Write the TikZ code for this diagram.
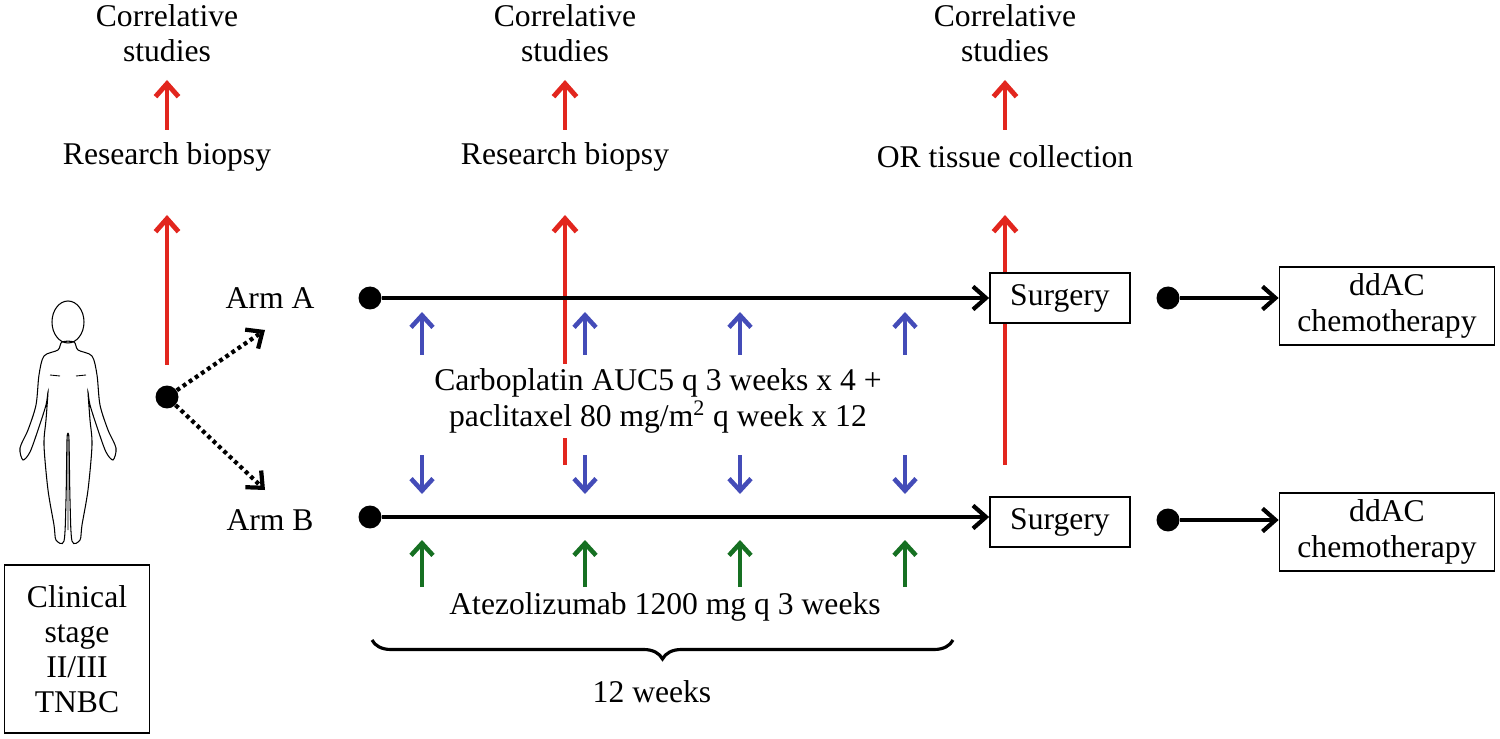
\documentclass[tikz,border=0pt]{standalone}
\usepackage{fontspec}
\setmainfont{Liberation Serif}
\usetikzlibrary{arrows.meta,decorations.pathreplacing}
\definecolor{rd}{RGB}{226,38,30}
\definecolor{bl}{RGB}{68,76,184}
\definecolor{gr}{RGB}{22,112,34}
\begin{document}
\begin{tikzpicture}[x=0.02cm,y=-0.02cm,
 txt/.style={font=\fontsize{18}{20}\selectfont,align=center,inner sep=1pt},
 box/.style={txt,draw,fill=white,line width=1pt,inner sep=4pt},
 red/.style={draw=rd,line width=2.8pt,-{Straight Barb[length=2.6mm,width=4.6mm,line width=2.8pt]}},
 blu/.style={draw=bl,line width=2.6pt,-{Straight Barb[length=2.4mm,width=4.4mm,line width=2.6pt]}},
 grn/.style={draw=gr,line width=2.6pt,-{Straight Barb[length=2.4mm,width=4.4mm,line width=2.6pt]}},
 blk/.style={line width=2.2pt,-{Straight Barb[length=2.6mm,width=4.6mm,line width=2.4pt]}},
 dot/.style={circle,fill=black,inner sep=0pt,minimum size=0.46cm}]
\useasboundingbox (0,0) rectangle (1500,739);
% correlative
\foreach \x/\n in {167/1,565/2,1005/3}{
 \node[txt] (cs\n) at (\x,33) {Correlative\\studies};
}
\node[txt] (rb1) at (167,157) {Research biopsy};
\node[txt] (rb2) at (565,157) {Research biopsy};
\node[txt] (rb3) at (1005,157) {OR tissue collection};
\foreach \n/\x in {1/167,2/565,3/1005}{
 \coordinate (s\n) at (\x,130); \coordinate (t\n) at (\x,80);
 \draw[red] (s\n) -- (t\n);
 \coordinate (u\n) at (\x,215);
}
\coordinate (l1) at (167,365); \coordinate (l2) at (565,465); \coordinate (l3) at (1005,465);
\foreach \n in {1,2,3}{\draw[red] (l\n) -- (u\n);}
% person
\draw[line width=0.6pt] (68,322) ellipse [x radius=16, y radius=21];
\draw[line width=0.6pt] plot[smooth cycle,tension=0.5] coordinates {
(74,342)(78,350)(92,356)(97,375)(100,405)(108,430)(116,448)(113,460)(106,452)(98,430)(90,405)(88,392)(90,420)(92,445)(88,490)(82,525)(80,540)(72,541)(70,500)(69,440)(68,435)
(67,440)(66,500)(64,541)(56,540)(54,525)(48,490)(44,445)(46,420)(48,392)(46,405)(38,430)(30,452)(23,460)(20,448)(28,430)(36,405)(39,375)(44,356)(58,350)(62,342)};
\draw[line width=0.5pt] (50,375)--(60,376) (76,376)--(86,375) (68,440)--(68,530);
\node[box,minimum width=2.9cm,minimum height=3.36cm] (cl) at (77,649) {Clinical\\stage\\II/III\\TNBC};
% randomisation
\node[dot] (r) at (167,397) {};
\coordinate (pa) at (265,330); \coordinate (pb) at (265,490);
\draw[blk,dotted,line width=2.4pt] (r) -- (pa);
\draw[blk,dotted,line width=2.4pt] (r) -- (pb);
\node[txt] (aa) at (270,298) {Arm A};
\node[txt] (ab) at (270,520) {Arm B};
% timelines
\node[dot] (da) at (370,298) {}; \node[dot] (db) at (370,517) {};
\node[box,minimum width=2.8cm,minimum height=1cm] (sa) at (1060,298) {Surgery};
\node[box,minimum width=2.8cm,minimum height=1cm] (sb) at (1060,522) {Surgery};
\draw[blk] (da) -- (sa.west|-da);
\draw[blk] (db) -- (sb.west|-db);
\node[dot] (ea) at (1168,298) {}; \node[dot] (eb) at (1168,520) {};
\node[box,minimum width=4.3cm,minimum height=1.45cm] (ca) at (1387,306) {ddAC\\chemotherapy};
\node[box,minimum width=4.3cm,minimum height=1.5cm] (cb) at (1387,532) {ddAC\\chemotherapy};
\draw[blk] (ea) -- (ca.west|-ea);
\draw[blk] (eb) -- (cb.west|-eb);
% drug arrows
\foreach \x [count=\i] in {422,585,740,905}{
 \coordinate (bu\i) at (\x,355); \coordinate (bt\i) at (\x,312);
 \draw[blu] (bu\i) -- (bt\i);
 \coordinate (bd\i) at (\x,455); \coordinate (be\i) at (\x,494);
 \draw[blu] (bd\i) -- (be\i);
 \coordinate (gu\i) at (\x,587); \coordinate (gt\i) at (\x,540);
 \draw[grn] (gu\i) -- (gt\i);
}
\node[txt,fill=white,inner sep=3pt] (carbo) at (658,401) {Carboplatin AUC5 q 3 weeks x 4 +\\paclitaxel 80 mg/m\textsuperscript{2} q week x 12};
\node[txt] (atz) at (665,607) {Atezolizumab 1200 mg q 3 weeks};
\coordinate (br1) at (953,640); \coordinate (br2) at (372,640);
\draw[line width=1.8pt,decorate,decoration={brace,amplitude=0.38cm,aspect=0.5}] (br1) -- (br2);
\node[txt] (wk) at (652,692) {12 weeks};
\end{tikzpicture}
\end{document}
